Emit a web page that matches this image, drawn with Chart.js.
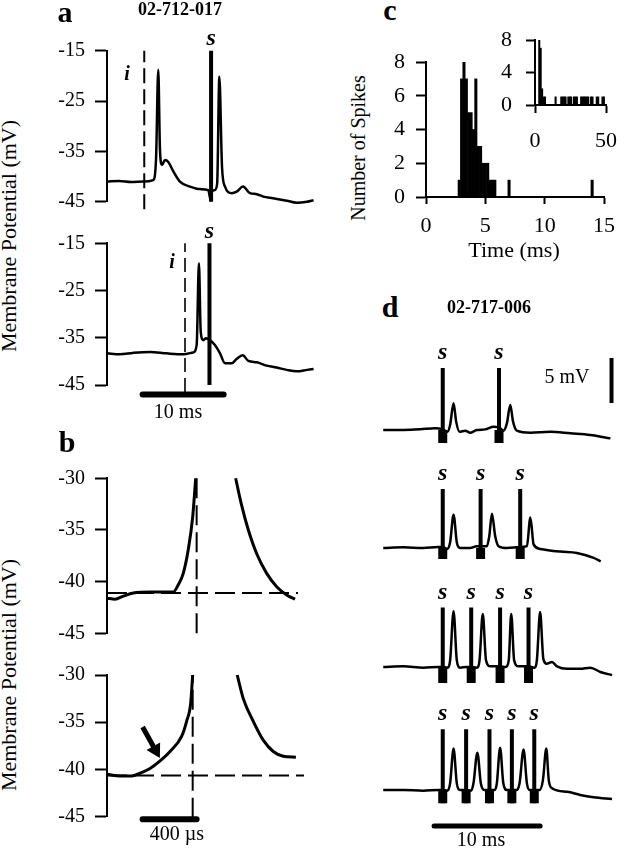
<!DOCTYPE html>
<html>
<head>
<meta charset="utf-8">
<title>Spike timing figure</title>
<script src="https://cdn.jsdelivr.net/npm/chart.js@4/dist/chart.umd.min.js"></script>
<style>
    html, body { margin: 0; padding: 0; background: #fff; overflow: hidden; }
    body { font-family: 'Liberation Serif', 'Times New Roman', serif; color: #000; }
    canvas { position: absolute; }
    .lbl { position: absolute; white-space: nowrap; }
</style>
</head>
<body>
<script>
/* ---------- panel a: membrane potential (mV) vs time (ms) ---------- */
const aTopTime = [0, 1.5, 3.0, 4.5, 5.7, 6.05, 6.33, 6.54, 6.79, 7.16, 7.57, 8.2, 9.0, 10.25, 11.5, 12.5, 12.8, 12.95, 13.3, 13.6, 13.87, 14.2, 14.57, 15.4, 16.0, 16.8, 17.65, 18.5, 19.3, 20.5, 22.2, 23.4, 24.7, 25.5];
const aTopMv   = [-41.0, -40.9, -41.1, -41.0, -40.7, -36.7, -18.8, -34.7, -37.7, -36.7, -37.1, -39.0, -41.0, -42.0, -42.5, -42.7, -44.7, -42.9, -42.7, -41.4, -20.2, -38.1, -42.0, -43.3, -43.0, -42.0, -43.3, -43.5, -44.0, -44.3, -44.8, -45.2, -45.0, -44.7];
const aBotTime = [0, 1.6, 3.2, 5.3, 7.35, 9.4, 10.65, 11.07, 11.35, 11.57, 11.9, 12.2, 12.7, 13.3, 13.95, 14.57, 15.4, 16.0, 16.75, 17.45, 18.5, 19.7, 20.95, 22.2, 23.4, 24.7, 25.5];
const aBotMv   = [-38.3, -38.5, -38.2, -38.0, -38.3, -38.5, -38.1, -36.5, -19.2, -33.7, -35.5, -35.1, -35.5, -36.5, -38.3, -40.4, -40.4, -39.5, -38.7, -39.9, -40.2, -40.9, -41.3, -41.8, -42.1, -41.8, -41.6];
const aStimTimes  = [12.85, 12.65];   // "s" (top, bottom trace)
const aInputTimes = [4.6, 9.63];      // "i" dashed markers
const aRange = [-45, -15];
const aDashLow = -46.5;
const aScaleBar = [4.4, 14.4];        // 10 ms
const aScaleBarMv = -47;

/* ---------- panel b: membrane potential (mV) vs time (µs) ---------- */
const bTopTime = [0, 59, 121, 195, 318, 491, 528, 565, 602, 635, 657, 800, 953, 997, 1047, 1109, 1183, 1257, 1331, 1393];
const bTopMv   = [-41.6, -41.7, -41.4, -41.1, -41.0, -41.0, -40.3, -39.2, -36.9, -33.7, -30, null, -30, -32.6, -35.0, -37.3, -39.2, -40.5, -41.3, -41.7];
const bBotTime = [0, 96, 183, 244, 319, 393, 467, 553, 590, 620, 635, 800, 965, 1010, 1084, 1158, 1232, 1306, 1400];
const bBotMv   = [-40.5, -40.7, -40.7, -40.4, -39.9, -39.1, -38.1, -36.5, -34.9, -33.0, -30, null, -30, -32.5, -34.9, -36.9, -38.1, -38.6, -38.7];
const bThreshold = [-41.1, -40.65];   // horizontal dashed (top, bottom)
const bPeakTime  = [664, 635];        // vertical dashed (top, bottom)
const bDashEnd = 1415;
const bRange = [-45, -30];
const bScaleBar = [264, 664];         // 400 µs
const bScaleBarMv = -45.27;
const bArrowTail = [264, -35.5];
const bArrowTip  = [388, -38.7];

/* ---------- panel c: spike latency histogram ---------- */
const histCenters = [2.8, 3.0, 3.2, 3.4, 3.6, 3.8, 4.0, 4.2, 4.4, 4.6, 4.8, 5.0, 5.2, 5.4, 5.6, 5.8, 7.0, 14.0];
const histCounts  = [1, 7, 8, 7, 5, 5, 4, 7, 3, 3, 2, 2, 2, 1, 1, 1, 1, 1];
const insetCenters = [3, 4, 5, 6, 7, 14.5, 18.5, 19.5, 20.5, 21.5, 23.5, 24.5, 25.5, 27.5, 28.5, 29.5, 32.5, 33.5, 34.5, 35.5, 36.5, 37.5, 39.5, 40.5, 43.5, 44.5, 47.5, 48.5];
const insetCounts  = [8, 7, 2, 1, 1, 1, 1, 1, 1, 1, 1, 1, 1, 1, 1, 1, 1, 1, 1, 1, 1, 1, 1, 1, 1, 1, 1, 1];

/* ---------- panel d: four trains (mV relative to rest, ms) ---------- */
const d1Time = [0.3, 2.16, 3.7, 5.1, 5.75, 6.23, 6.48, 6.8, 7.04, 7.35, 7.87, 8.33, 8.95, 9.72, 10.5, 11.0, 11.4, 11.73, 12.04, 12.3, 12.65, 13.9, 15.74, 17.6, 19.44, 21.3];
const d1Mv   = [0, 0, 0.07, 0.2, 0.1, -0.2, 0.55, 2.96, 0.93, -0.2, -0.07, -0.3, 0, 0.07, 0.37, 0.3, -0.07, 0.74, 2.78, 0.93, -0.07, -0.3, -0.2, -0.37, -0.55, -0.93];
const d2Time = [0.3, 2.16, 4.0, 5.4, 5.8, 6.23, 6.48, 6.8, 7.1, 7.4, 8.33, 8.95, 9.3, 9.88, 10.1, 10.35, 10.65, 10.96, 11.73, 12.65, 12.96, 13.58, 13.9, 14.2, 14.8, 16.67, 18.2, 19.75, 20.4];
const d2Mv   = [0, 0.07, 0, 0.1, 0.1, -0.1, 0.6, 3.7, 0.6, 0, 0, 0.2, 0.2, 0.2, 1.3, 3.8, 1.3, 0.2, 0, 0.07, 0.1, 0.2, 3.4, 0.4, -0.1, -0.4, -0.55, -1.1, -1.48];
const d3Time = [0.3, 2.16, 4.0, 5.4, 5.8, 6.23, 6.48, 6.8, 7.1, 7.4, 8.0, 8.43, 8.95, 9.2, 9.5, 9.8, 10.2, 10.65, 11.1, 11.6, 11.9, 12.13, 12.4, 12.8, 13.27, 13.73, 14.26, 14.5, 14.8, 15.1, 15.4, 15.9, 16.36, 17.3, 18.5, 19.44, 20.37, 21.45];
const d3Mv   = [0, 0.07, -0.07, 0, 0, -0.07, 0.74, 6.2, 0.74, -0.07, 0, 0, -0.07, 0.74, 5.9, 0.74, 0.07, 0.07, 0.07, 0, 0.74, 5.9, 0.74, 0.07, 0.07, 0.07, -0.07, 0.74, 6.1, 0.9, 0.37, 0.55, 0.07, -0.2, -0.2, -0.07, -0.55, -0.9];
const d4Time = [0.3, 2.16, 4.0, 5.4, 5.8, 6.23, 6.48, 6.8, 7.1, 7.4, 7.96, 8.43, 8.64, 9.0, 9.32, 9.63, 10.12, 10.6, 10.8, 11.1, 11.4, 11.73, 12.19, 12.65, 12.9, 13.27, 13.58, 13.83, 14.26, 14.75, 15.06, 15.37, 15.6, 15.9, 17.3, 18.5, 19.75, 21.45];
const d4Mv   = [0, 0, -0.07, 0, 0, -0.07, 0.74, 4.6, 0.74, 0, 0, -0.07, 0.74, 4.15, 0.74, 0, 0, 0, 0.74, 4.7, 0.74, 0, 0, 0, 0.74, 4.5, 0.74, 0, 0, 0, 1.1, 4.6, 1.1, 0.2, -0.2, -0.55, -0.8, -1.0];
const dStim = [[5.8, 11.0], [5.8, 9.3, 12.96], [5.8, 8.43, 11.1, 13.73], [5.8, 7.96, 10.12, 12.19, 14.26]];
const dStimTop = [6.9, 6.56, 6.6, 6.74];
const dStimBottom = [-1.45, -1.22, -1.78, -1.48];
const dMvBar = [3, 8];          // 5 mV, at t = dMvBarTime
const dMvBarTime = 21.4;
const dTimeBar = [5.0, 14.8];   // 10 ms, at dTimeBarMv
const dTimeBarMv = -4;

/* ---------- helpers ---------- */
const SERIF = "'Liberation Serif', 'Times New Roman', serif";
Chart.defaults.font.family = SERIF;
Chart.defaults.color = '#000';
const mono = { cubicInterpolationMode: 'monotone' };

const pts = (xs, ys) => xs.map((x, i) => ({ x, y: ys[i] }));
const vsegs = (xs, lo, hi) => xs.flatMap(x => [{ x, y: lo }, { x, y: hi }, { x, y: null }]);
const hseg = (x0, x1, y) => [{ x: x0, y }, { x: x1, y }];

function line(data, w, extra) {
    return Object.assign({ type: 'line', data, borderColor: '#000', backgroundColor: '#000',
        borderWidth: w, pointRadius: 0, clip: false }, extra || {});
}

function addText(str, x, base, size, weight, style, rotate) {
    const d = document.createElement('div');
    d.className = 'lbl';
    d.textContent = str;
    d.style.fontSize = size + 'px';
    d.style.lineHeight = size + 'px';
    d.style.fontWeight = weight || 'normal';
    d.style.fontStyle = style || 'normal';
    d.style.left = x + 'px';
    if (rotate) {
        d.style.top = base + 'px';
        d.style.transform = 'translate(-50%, -50%) rotate(-90deg)';
    } else {
        d.style.top = (base - 0.8375 * size) + 'px';
        d.style.transform = 'translateX(-50%)';
    }
    document.body.appendChild(d);
}

function yAxis(min, max, step, tickLen, pad, size) {
    return {
        type: 'linear', min, max, position: 'left',
        border: { display: true, color: '#000', width: 2 },
        grid: { drawOnChartArea: false, drawTicks: true, tickLength: tickLen, tickWidth: 2, tickColor: '#000' },
        ticks: { stepSize: step, color: '#000', padding: pad, font: { family: SERIF, size } }
    };
}

function xAxis(min, max, step, tickLen, pad, size) {
    return {
        type: 'linear', min, max, offset: false, position: 'bottom',
        border: { display: true, color: '#000', width: 2 },
        grid: { offset: false, drawOnChartArea: false, drawTicks: true, tickLength: tickLen, tickWidth: 2, tickColor: '#000' },
        ticks: { stepSize: step, color: '#000', padding: pad, maxRotation: 0, autoSkip: false, font: { family: SERIF, size } }
    };
}

const hidden = (min, max) => ({ type: 'linear', min, max, display: false });

// area = wanted plot rectangle on the page; pad = room around it for overflow marks
function plot(area, pad, type, build) {
    const config = (b, p) => ({
        type,
        data: { datasets: b.datasets },
        options: {
            responsive: false, animation: false, devicePixelRatio: 1, events: [],
            layout: { padding: p },
            plugins: { legend: { display: false }, tooltip: { enabled: false } },
            scales: b.scales
        }
    });
    // first pass: measure the axis sizes the library picks on its own
    const probe = document.createElement('canvas');
    probe.width = 600; probe.height = 600;
    probe.style.visibility = 'hidden';
    document.body.appendChild(probe);
    const tmp = new Chart(probe, config(build(), { top: pad.t, right: pad.r, bottom: pad.b, left: pad.l }));
    const yW = tmp.scales.y.options.display ? tmp.scales.y.width : 0;
    const xH = tmp.scales.x.options.display ? tmp.scales.x.height : 0;
    tmp.destroy();
    probe.remove();

    const box = { x: Math.floor(area.l - yW - pad.l), y: Math.floor(area.t - pad.t) };
    const padL = area.l - yW - box.x;
    const padT = area.t - box.y;
    box.w = Math.ceil(padL + yW + (area.r - area.l) + pad.r);
    box.h = Math.ceil(padT + (area.b - area.t) + xH + pad.b);
    const padR = box.w - padL - yW - (area.r - area.l);
    const padB = box.h - padT - (area.b - area.t) - xH;

    const cv = document.createElement('canvas');
    cv.width = box.w; cv.height = box.h;
    cv.style.left = box.x + 'px'; cv.style.top = box.y + 'px';
    document.body.appendChild(cv);
    const chart = new Chart(cv, config(build(), { top: padT, right: padR, bottom: padB, left: padL }));
    return { chart, box };
}

function stimLabels(p, times, topMv, gap) {
    const sx = p.chart.scales.x, sy = p.chart.scales.y;
    times.forEach(t => addText('s', p.box.x + sx.getPixelForValue(t),
        p.box.y + sy.getPixelForValue(topMv) - gap, 24, 'bold', 'italic'));
}

/* ---------- panel a ---------- */
const pA1 = plot({ l: 107, r: 317.6, t: 50.7, b: 201.7 }, { t: 28, r: 8, b: 28, l: 0 }, 'line', () => ({
    datasets: [
        line(pts(aTopTime, aTopMv), 2.5, mono),
        line(vsegs([aInputTimes[0]], aDashLow, aRange[1]), 2, { borderDash: [15, 6] }),
        line(vsegs([aStimTimes[0]], aRange[0], aRange[1]), 4)
    ],
    scales: { x: hidden(0, 26), y: yAxis(aRange[0], aRange[1], 10, 12, 10, 20) }
}));

const pA2 = plot({ l: 107, r: 317.6, t: 243.3, b: 385 }, { t: 28, r: 8, b: 26, l: 0 }, 'line', () => ({
    datasets: [
        line(pts(aBotTime, aBotMv), 2.5, mono),
        line(vsegs([aInputTimes[1]], aDashLow, aRange[1]), 1.6, { borderDash: [14, 6] }),
        line(vsegs([aStimTimes[1]], aRange[0], aRange[1]), 4),
        line(hseg(aScaleBar[0], aScaleBar[1], aScaleBarMv), 6, { borderCapStyle: 'round' })
    ],
    scales: { x: hidden(0, 26), y: yAxis(aRange[0], aRange[1], 10, 12, 10, 20) }
}));

/* ---------- panel b ---------- */
plot({ l: 107, r: 304.1, t: 478.3, b: 633.3 }, { t: 28, r: 8, b: 28, l: 0 }, 'line', () => ({
    datasets: [
        line(pts(bTopTime, bTopMv), 3, mono),
        line(hseg(0, bDashEnd, bThreshold[0]), 2, { borderDash: [20, 7] }),
        line(vsegs([bPeakTime[0]], bRange[0], bRange[1]), 2, { borderDash: [20, 7] })
    ],
    scales: { x: hidden(0, 1460), y: yAxis(bRange[0], bRange[1], 5, 12, 10, 20) }
}));

// arrow: shaft to the head centre, then a rotated triangle point
const headAt = 0.23;
const headCentre = [bArrowTip[0] - headAt * (bArrowTip[0] - bArrowTail[0]), bArrowTip[1] - headAt * (bArrowTip[1] - bArrowTail[1])];
plot({ l: 107, r: 304.1, t: 675, b: 816.7 }, { t: 28, r: 8, b: 35, l: 0 }, 'line', () => ({
    datasets: [
        line(pts(bBotTime, bBotMv), 3, mono),
        line(hseg(0, 1460, bThreshold[1]), 2, { borderDash: [20, 7] }),
        line(vsegs([bPeakTime[1]], -45.1, bRange[1]), 2, { borderDash: [20, 7] }),
        line(hseg(bScaleBar[0], bScaleBar[1], bScaleBarMv), 6, { borderCapStyle: 'round' }),
        line([{ x: bArrowTail[0], y: bArrowTail[1] }, { x: headCentre[0], y: headCentre[1] }], 5),
        line([{ x: headCentre[0], y: headCentre[1] }], 0, { showLine: false, pointStyle: 'triangle', pointRadius: 9, pointRotation: 151, pointBorderWidth: 0, pointBackgroundColor: '#000' })
    ],
    scales: { x: hidden(0, 1460), y: yAxis(bRange[0], bRange[1], 5, 12, 10, 20) }
}));

/* ---------- panel c ---------- */
const barStyle = { backgroundColor: '#000', borderWidth: 0, barPercentage: 1, categoryPercentage: 1 };
plot({ l: 426, r: 610, t: 62, b: 197 }, { t: 28, r: 14, b: 0, l: 0 }, 'bar', () => ({
    datasets: [Object.assign({ data: pts(histCenters, histCounts) }, barStyle)],
    scales: { x: xAxis(0, 15, 5, 7, 9, 22), y: yAxis(0, 8, 2, 10, 11, 22) }
}));

plot({ l: 535, r: 621.7, t: 40, b: 105 }, { t: 28, r: 10, b: 0, l: 0 }, 'bar', () => ({
    datasets: [Object.assign({ data: pts(insetCenters, insetCounts) }, barStyle)],
    scales: { x: xAxis(0, 50, 50, 8, 15, 22), y: yAxis(0, 8, 4, 9, 14, 22) }
}));

/* ---------- panel d ---------- */
const dTraces = [[d1Time, d1Mv], [d2Time, d2Mv], [d3Time, d3Mv], [d4Time, d4Mv]];
const dAreas = [
    { l: 380, r: 618, t: 349, b: 457, min: -3 },
    { l: 380, r: 618, t: 467, b: 575, min: -3 },
    { l: 380, r: 618, t: 586, b: 694, min: -3 },
    { l: 380, r: 618, t: 709, b: 844, min: -6 }
];
const dPlots = dTraces.map(([t, v], i) => plot(dAreas[i], { t: 0, r: 12, b: 0, l: 10 }, 'line', () => {
    const sets = [
        line(pts(t, v), 2.5, mono),
        line(vsegs(dStim[i], dStimBottom[i], dStimTop[i]), 4),
        line(vsegs(dStim[i], dStimBottom[i], 0), 9)
    ];
    if (i === 0) sets.push(line(vsegs([dMvBarTime], dMvBar[0], dMvBar[1]), 4));
    if (i === 3) sets.push(line(hseg(dTimeBar[0], dTimeBar[1], dTimeBarMv), 5, { borderCapStyle: 'round' }));
    return { datasets: sets, scales: { x: hidden(0, 22), y: hidden(dAreas[i].min, 9) } };
}));

/* ---------- text ---------- */
stimLabels(pA1, [aStimTimes[0]], aRange[1], 6);
stimLabels(pA2, [aStimTimes[1]], aRange[1], 5);
dPlots.forEach((p, i) => stimLabels(p, dStim[i], dStimTop[i], 9));
addText('a', 65, 22, 30, 'bold');
addText('02-712-017', 180, 15, 18, 'bold');
addText('i', 127, 80, 20, 'bold', 'italic');
addText('i', 172, 268, 20, 'bold', 'italic');
addText('10 ms', 178, 418, 20);
addText('Membrane Potential (mV)', 9.3, 235.5, 22, 'normal', 'normal', true);
addText('b', 67, 452, 30, 'bold');
addText('Membrane Potential (mV)', 9.3, 674.5, 22, 'normal', 'normal', true);
addText('400 µs', 177, 840, 20);
addText('c', 390, 20, 30, 'bold');
addText('Number of Spikes', 358.3, 147.5, 20, 'normal', 'normal', true);
addText('Time (ms)', 514, 257, 22);
addText('d', 390, 317, 30, 'bold');
addText('02-717-006', 489, 313, 18, 'bold');
addText('5 mV', 567, 383, 20);
addText('10 ms', 481, 846, 20);
</script>
</body>
</html>
